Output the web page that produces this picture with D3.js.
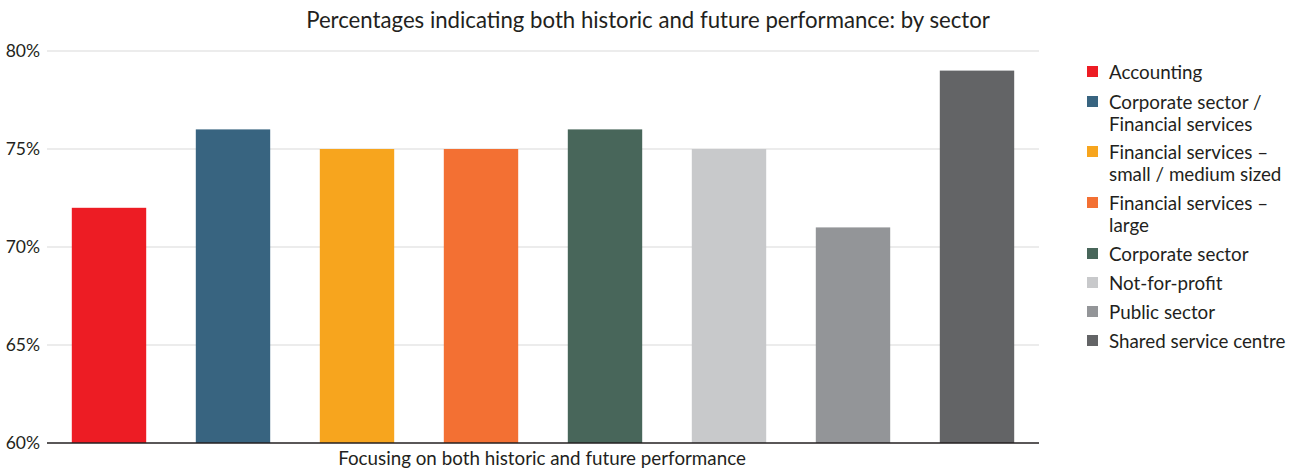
<!DOCTYPE html>
<html>
<head>
<meta charset="utf-8">
<script src="https://cdn.jsdelivr.net/npm/d3@7/dist/d3.min.js"></script>
<style>
  body { margin: 0; background: #fff; }
  text { font-family: Lato, 'Open Sans', sans-serif; fill: #231f20; }
</style>
</head>
<body>
<script>
const width = 1300
const height = 470
const margins = { top: 51, right: 261, bottom: 27, left: 47 }

const sectors = [
  'Accounting',
  'Corporate sector / Financial services',
  'Financial services – small / medium sized',
  'Financial services – large',
  'Corporate sector',
  'Not-for-profit',
  'Public sector',
  'Shared service centre'
]
const legendLines = [
  ['Accounting'],
  ['Corporate sector /', 'Financial services'],
  ['Financial services –', 'small / medium sized'],
  ['Financial services –', 'large'],
  ['Corporate sector'],
  ['Not-for-profit'],
  ['Public sector'],
  ['Shared service centre']
]
const values = [72, 76, 75, 75, 76, 75, 71, 79]
const colors = ['#ed1c24', '#386480', '#f7a51e', '#f37033', '#48665a', '#c8c9cb', '#939598', '#636466']
const yTicks = [60, 65, 70, 75, 80]

const svg = d3.select('body').append('svg')
  .attr('width', width)
  .attr('height', height)

const x = d3.scaleBand()
  .domain(sectors)
  .range([margins.left, width - margins.right])
  .paddingInner(0.4)
  .paddingOuter(0.2)

const y = d3.scaleLinear()
  .domain([60, 80])
  .range([height - margins.bottom, margins.top])

// gridlines
svg.append('g')
  .selectAll('line')
  .data(yTicks.slice(1))
  .enter()
  .append('line')
  .attr('x1', margins.left)
  .attr('x2', width - margins.right)
  .attr('y1', d => y(d))
  .attr('y2', d => y(d))
  .attr('stroke', '#d9d9d9')
  .attr('stroke-width', 1)

// y labels
svg.append('g')
  .selectAll('text')
  .data(yTicks)
  .enter()
  .append('text')
  .attr('x', 40)
  .attr('y', d => y(d))
  .attr('dy', '0.35em')
  .attr('text-anchor', 'end')
  .style('font-size', '17.5px')
  .text(d => d + '%')

// bars
svg.append('g')
  .selectAll('rect')
  .data(values)
  .enter()
  .append('rect')
  .attr('x', (d, i) => x(sectors[i]))
  .attr('width', x.bandwidth())
  .attr('y', d => y(d))
  .attr('height', d => y(60) - y(d))
  .attr('fill', (d, i) => colors[i])

// baseline
svg.append('line')
  .attr('x1', margins.left)
  .attr('x2', width - margins.right)
  .attr('y1', y(60))
  .attr('y2', y(60))
  .attr('stroke', '#231f20')
  .attr('stroke-width', 1.5)

// title
svg.append('text')
  .attr('x', 648)
  .attr('y', 28)
  .attr('text-anchor', 'middle')
  .style('font-size', '22.2px')
  .text('Percentages indicating both historic and future performance: by sector')

// x axis label
svg.append('text')
  .attr('x', 542)
  .attr('y', 465)
  .attr('text-anchor', 'middle')
  .style('font-size', '18.8px')
  .text('Focusing on both historic and future performance')

// legend
const legendY = [72, 102, 152, 203, 254, 283, 312, 341]
const legend = svg.append('g')
  .selectAll('g')
  .data(legendLines)
  .enter()
  .append('g')
  .attr('transform', (d, i) => `translate(1087, ${legendY[i]})`)

legend.append('rect')
  .attr('x', 0)
  .attr('y', -6)
  .attr('width', 11)
  .attr('height', 11)
  .attr('fill', (d, i) => colors[i])

legend.append('text')
  .attr('x', 22)
  .attr('y', 0)
  .style('font-size', '18.8px')
  .selectAll('tspan')
  .data(d => d)
  .enter()
  .append('tspan')
  .attr('x', 22)
  .attr('dy', (d, i) => i === 0 ? '0.35em' : '22px')
  .text(d => d)
</script>
</body>
</html>
